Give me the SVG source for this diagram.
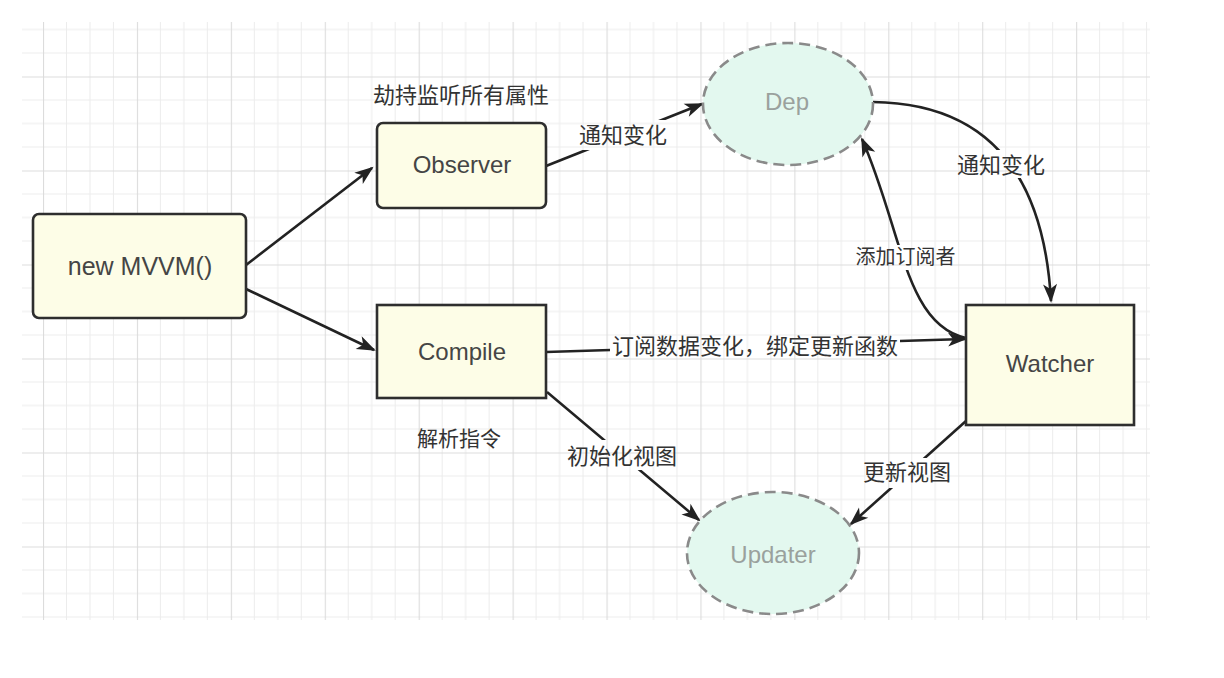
<svg xmlns="http://www.w3.org/2000/svg" width="1224" height="678" viewBox="0 0 1224 678">
<style>
.node{fill:#fdfde7;stroke:#2e2e2e;stroke-width:2.6}
.ell{fill:#e3f8ef;stroke:#8a8a8a;stroke-width:2.6;stroke-dasharray:11 6}
.nt{font-family:"Liberation Sans",Arial,sans-serif;font-size:24px;fill:#454545;text-anchor:middle}
.et{font-family:"Liberation Sans",Arial,sans-serif;font-size:24px;fill:#9aa19d;text-anchor:middle}
.lb{font-family:"Noto Sans CJK SC","Noto Sans",sans-serif;font-size:22px;fill:#333;text-anchor:middle}
.conn{fill:none;stroke:#222;stroke-width:2.6}
</style>
<defs>
<pattern id="grid" patternUnits="userSpaceOnUse" x="43" y="76.5" width="93.92" height="94">
<g stroke="#ececec" stroke-width="1">
<line x1="23.48" y1="0" x2="23.48" y2="94"/>
<line x1="46.96" y1="0" x2="46.96" y2="94"/>
<line x1="70.44" y1="0" x2="70.44" y2="94"/>
<line x1="0" y1="23.5" x2="93.92" y2="23.5"/>
<line x1="0" y1="47" x2="93.92" y2="47"/>
<line x1="0" y1="70.5" x2="93.92" y2="70.5"/>
</g>
<g stroke="#dcdcdc" stroke-width="1.2">
<line x1="0.5" y1="0" x2="0.5" y2="94"/>
<line x1="0" y1="0.5" x2="93.92" y2="0.5"/>
</g>
</pattern>
<marker id="arr" markerUnits="userSpaceOnUse" markerWidth="20" markerHeight="16" refX="17" refY="7" orient="auto" overflow="visible">
<path d="M0,0 L19,7 L0,14 L5,7 Z" fill="#222"/>
</marker>
<mask id="gaps" maskUnits="userSpaceOnUse" x="0" y="0" width="1224" height="678">
<rect x="0" y="0" width="1224" height="678" fill="#fff"/>
<rect x="578" y="120" width="90" height="30" fill="#000"/>
<rect x="955" y="150" width="92" height="28" fill="#000"/>
<rect x="853" y="245" width="105" height="25" fill="#000"/>
<rect x="610" y="330" width="290" height="32" fill="#000"/>
<rect x="565" y="440" width="115" height="30" fill="#000"/>
<rect x="862" y="458" width="90" height="30" fill="#000"/>
</mask>
</defs>
<rect x="0" y="0" width="1224" height="678" fill="#fff"/>
<rect x="22" y="22" width="1128" height="598" fill="url(#grid)"/>

<g id="connectors" mask="url(#gaps)">
<path class="conn" d="M246,265 L372,168" marker-end="url(#arr)"/>
<path class="conn" d="M246,289 L374,350" marker-end="url(#arr)"/>
<path class="conn" d="M546,166 L702,104" marker-end="url(#arr)"/>
<path class="conn" d="M873,102 Q1040,104 1051,301" marker-end="url(#arr)"/>
<path class="conn" d="M966,338 C905,325 902,230 862,139" marker-end="url(#arr)"/>
<path class="conn" d="M546,352 L965,339" marker-end="url(#arr)"/>
<path class="conn" d="M547,392 L699,520" marker-end="url(#arr)"/>
<path class="conn" d="M966,421 L851,524" marker-end="url(#arr)"/>
</g>

<g id="labels">
<text class="lb" x="461" y="103">劫持监听所有属性</text>
<text class="lb" x="623" y="143">通知变化</text>
<text class="lb" x="1001" y="173">通知变化</text>
<text class="lb" x="905.5" y="264" style="font-size:20px">添加订阅者</text>
<text class="lb" x="755" y="354">订阅数据变化，绑定更新函数</text>
<text class="lb" x="459" y="446" style="font-size:21px">解析指令</text>
<text class="lb" x="622" y="464">初始化视图</text>
<text class="lb" x="907" y="480">更新视图</text>
</g>

<g id="node-mvvm">
<rect class="node" x="33" y="214" width="213" height="104" rx="6"/>
<text class="nt" x="140" y="275" style="font-size:25px">new MVVM()</text>
</g>
<g id="node-observer">
<rect class="node" x="377" y="123" width="169" height="85" rx="6"/>
<text class="nt" x="462" y="173">Observer</text>
</g>
<g id="node-compile">
<rect class="node" x="377" y="305" width="169" height="93"/>
<text class="nt" x="462" y="360">Compile</text>
</g>
<g id="node-watcher">
<rect class="node" x="966" y="305" width="168" height="120"/>
<text class="nt" x="1050" y="372">Watcher</text>
</g>
<g id="node-dep">
<ellipse class="ell" cx="788" cy="104" rx="85" ry="61"/>
<text class="et" x="787" y="110">Dep</text>
</g>
<g id="node-updater">
<ellipse class="ell" cx="773" cy="553" rx="86" ry="61"/>
<text class="et" x="773" y="563">Updater</text>
</g>
</svg>
